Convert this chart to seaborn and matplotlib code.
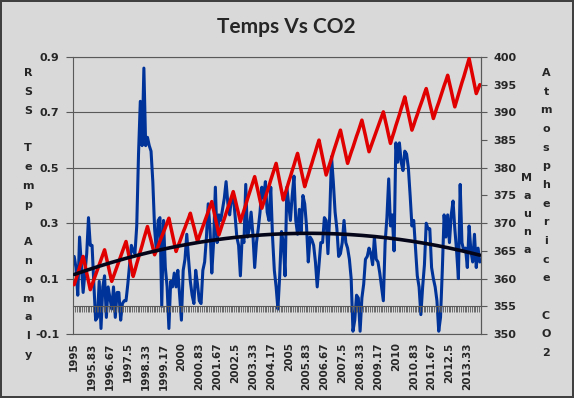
import matplotlib
matplotlib.use("Agg")
import matplotlib.pyplot as plt
import numpy as np
import seaborn as sns

# RSS lower troposphere anomaly, monthly Jan 1995 - Dec 2013
rss_temp = [
    0.18, 0.14, 0.04, 0.25, 0.15, 0.05, 0.12, 0.19, 0.32, 0.22, 0.22, 0.08,
    -0.05, -0.04, 0.09, -0.08, 0.07, 0.11, -0.04, 0.07, 0.03, -0.01, 0.07, -0.04,
    0.05, 0.05, -0.05, 0.01, 0.02, 0.02, 0.08, 0.15, 0.22, 0.20, 0.19, 0.29,
    0.55, 0.74, 0.58, 0.86, 0.58, 0.61, 0.58, 0.56, 0.45, 0.28, 0.20, 0.31,
    0.32, 0.00, 0.31, 0.14, 0.07, -0.08, 0.09, 0.07, 0.12, 0.07, 0.13, 0.04,
    -0.05, 0.13, 0.17, 0.26, 0.17, 0.09, 0.04, 0.01, 0.13, 0.08, 0.02, 0.01,
    0.13, 0.16, 0.25, 0.37, 0.28, 0.12, 0.23, 0.43, 0.23, 0.33, 0.31, 0.35,
    0.39, 0.45, 0.37, 0.33, 0.39, 0.40, 0.33, 0.25, 0.22, 0.11, 0.25, 0.23,
    0.44, 0.25, 0.28, 0.34, 0.26, 0.14, 0.23, 0.28, 0.34, 0.43, 0.39, 0.45,
    0.34, 0.31, 0.43, 0.25, 0.13, 0.07, -0.01, 0.11, 0.27, 0.23, 0.11, 0.43,
    0.37, 0.31, 0.40, 0.47, 0.31, 0.26, 0.35, 0.27, 0.40, 0.37, 0.29, 0.16,
    0.25, 0.24, 0.22, 0.16, 0.07, 0.15, 0.23, 0.23, 0.32, 0.31, 0.19, 0.33,
    0.54, 0.45, 0.34, 0.28, 0.18, 0.19, 0.23, 0.31, 0.23, 0.21, 0.17, 0.10,
    -0.09, -0.05, 0.04, 0.03, -0.09, 0.03, 0.08, 0.17, 0.18, 0.21, 0.19, 0.15,
    0.25, 0.17, 0.16, 0.12, 0.07, 0.02, 0.23, 0.32, 0.46, 0.29, 0.33, 0.20,
    0.59, 0.52, 0.59, 0.52, 0.49, 0.56, 0.55, 0.50, 0.40, 0.29, 0.31, 0.21,
    0.11, 0.07, -0.03, 0.07, 0.15, 0.30, 0.28, 0.28, 0.14, 0.10, 0.07, 0.02,
    -0.09, -0.04, 0.13, 0.33, 0.25, 0.33, 0.23, 0.33, 0.38, 0.28, 0.20, 0.10,
    0.44, 0.23, 0.20, 0.21, 0.14, 0.29, 0.20, 0.16, 0.26, 0.14, 0.21, 0.16,
]

# Mauna Loa CO2 (ppm), same months
co2_ppm = [
    358.9, 359.9, 360.9, 362.0, 363.0, 364.0, 362.5, 361.0, 359.5, 358.0, 358.9, 359.8,
    360.7, 361.6, 362.5, 363.4, 364.3, 365.2, 363.8, 362.4, 360.9, 359.5, 360.4, 361.3,
    362.2, 363.1, 364.0, 364.9, 365.8, 366.7, 365.1, 363.6, 362.0, 360.4, 361.5, 362.7,
    363.8, 364.9, 366.0, 367.2, 368.3, 369.4, 368.1, 366.9, 365.6, 364.3, 365.1, 365.9,
    366.8, 367.6, 368.4, 369.2, 370.1, 370.9, 369.4, 367.9, 366.4, 364.9, 365.8, 366.6,
    367.5, 368.4, 369.2, 370.1, 370.9, 371.8, 370.5, 369.3, 368.0, 366.7, 367.6, 368.5,
    369.4, 370.3, 371.2, 372.1, 373.0, 373.9, 372.4, 370.9, 369.4, 367.9, 368.9, 369.9,
    370.8, 371.8, 372.8, 373.7, 374.7, 375.7, 374.4, 373.0, 371.7, 370.3, 371.3, 372.3,
    373.3, 374.4, 375.4, 376.4, 377.4, 378.4, 377.0, 375.6, 374.1, 372.7, 373.7, 374.7,
    375.7, 376.7, 377.8, 378.8, 379.8, 380.8, 379.2, 377.5, 375.9, 374.2, 375.3, 376.3,
    377.4, 378.4, 379.5, 380.5, 381.6, 382.6, 381.1, 379.6, 378.1, 376.6, 377.7, 378.7,
    379.8, 380.8, 381.9, 382.9, 384.0, 385.0, 383.4, 381.9, 380.3, 378.7, 379.7, 380.7,
    381.7, 382.8, 383.8, 384.8, 385.8, 386.8, 385.3, 383.8, 382.3, 380.8, 381.8, 382.8,
    383.7, 384.7, 385.7, 386.6, 387.6, 388.6, 387.2, 385.8, 384.3, 382.9, 383.8, 384.7,
    385.6, 386.5, 387.4, 388.3, 389.2, 390.1, 388.7, 387.3, 385.8, 384.4, 385.5, 386.5,
    387.6, 388.6, 389.6, 390.7, 391.7, 392.8, 391.3, 389.8, 388.3, 386.8, 387.7, 388.7,
    389.6, 390.6, 391.5, 392.4, 393.4, 394.3, 393.0, 391.6, 390.3, 388.9, 389.9, 390.9,
    391.8, 392.8, 393.8, 394.8, 395.7, 396.7, 395.3, 393.9, 392.4, 391.0, 392.1, 393.2,
    394.3, 395.4, 396.4, 397.5, 398.6, 399.7, 398.1, 396.6, 395.0, 393.4, 394.2, 395.0,
]

x_labels = ['1995', '1995.83', '1996.67', '1997.5', '1998.33', '1999.17', '2000',
            '2000.83', '2001.67', '2002.5', '2003.33', '2004.17', '2005', '2005.83',
            '2006.67', '2007.5', '2008.33', '2009.17', '2010', '2010.83', '2011.67',
            '2012.5', '2013.33']
temp_ticks = [-0.1, 0.1, 0.3, 0.5, 0.7, 0.9]
co2_ticks = [350, 355, 360, 365, 370, 375, 380, 385, 390, 395, 400]

left_label = "RSS Temp Anomaly"
right_label_1 = "Mauna"
right_label_2 = "Atmospherice CO2"

BG = '#D9D9D9'
GRID = '#595959'

sns.set_style('white', rc={'axes.facecolor': BG, 'figure.facecolor': BG})
plt.rcParams['font.family'] = ['DejaVu Sans']
plt.rcParams['font.weight'] = 'bold'

months = np.arange(len(rss_temp))

fig, ax = plt.subplots(figsize=(5.74, 3.98), dpi=100)
fig.subplots_adjust(left=0.1277, right=0.8375, bottom=0.1608, top=0.8568)
fig.patch.set_edgecolor('#404040')
fig.patch.set_linewidth(1.5)

ax2 = ax.twinx()   # CO2 scale, drawn over the temp series
ax3 = ax.twiny()   # trendline + monthly tick axis at zero, drawn on top

# blue temps at the bottom, red CO2 over it, black trend on top
sns.lineplot(x=months, y=rss_temp, ax=ax, color='#003399', linewidth=2.2, legend=False)
sns.lineplot(x=months, y=co2_ppm, ax=ax2, color='#E00000', linewidth=2.5, legend=False)

# 2nd order polynomial trendline of the temp series
coef = np.polyfit(months, rss_temp, 2)
sns.lineplot(x=months, y=np.polyval(coef, months), ax=ax3, color='#05051a',
             linewidth=2.6, legend=False)

# primary axis
ax.set_xlabel('')
ax.set_ylabel('')
ax.set_xlim(-0.5, len(months) - 0.5)
ax.set_ylim(-0.1, 0.9)
ax.set_yticks(temp_ticks)
ax.set_yticklabels([f'{t:.1f}' for t in temp_ticks])
ax.set_xticks(months[::10])
ax.set_xticklabels(x_labels, rotation=90)
ax.tick_params(axis='x', length=0, pad=6, labelsize=7.5)
ax.tick_params(axis='y', direction='out', length=5, width=0.8, color=GRID, pad=5, labelsize=8)
ax.yaxis.grid(True, color=GRID, linewidth=0.8)
ax.set_axisbelow(True)
for sp in ax.spines.values():
    sp.set_color(GRID)
    sp.set_linewidth(0.8)

# secondary axis
ax2.set_ylim(350, 400)
ax2.set_yticks(co2_ticks)
ax2.set_yticklabels([str(t) for t in co2_ticks])
ax2.tick_params(axis='y', direction='out', length=4, width=0.8, color=GRID, pad=5, labelsize=8)
ax2.set_ylabel('')
for name, sp in ax2.spines.items():
    sp.set_visible(name == 'right')
    sp.set_color(GRID)
    sp.set_linewidth(0.8)

# zero line with monthly tick marks
ax3.set_xlim(-0.5, len(months) - 0.5)
ax3.set_xlabel('')
ax3.set_ylabel('')
ax3.xaxis.set_ticks_position('bottom')
ax3.set_xticks(np.arange(-0.5, len(months), 1))
ax3.set_xticklabels([])
ax3.tick_params(axis='x', direction='out', length=4, width=0.6, color=GRID)
for name, sp in ax3.spines.items():
    sp.set_visible(name == 'bottom')
ax3.spines['bottom'].set_position(('data', 0))
ax3.spines['bottom'].set_color(GRID)
ax3.spines['bottom'].set_linewidth(0.8)

# title and stacked axis titles
fig.text(0.4995, 0.932, 'Temps Vs CO2', ha='center', va='center',
         fontsize=15, fontweight='bold', family=['Lato', 'DejaVu Sans'])


def stacked(text, x, y_top, step):
    for i, ch in enumerate(text):
        fig.text(x, y_top - i * step, ch, ha='center', va='center', fontsize=8)


stacked(left_label, 28 / 574, 1 - 73 / 398, 18.8 / 398)
stacked(right_label_1, 527 / 574, 1 - 178 / 398, 18.0 / 398)
stacked(right_label_2, 546 / 574, 1 - 73 / 398, 18.67 / 398)

fig.savefig('out.png', dpi=100, facecolor=BG, edgecolor='#404040')
